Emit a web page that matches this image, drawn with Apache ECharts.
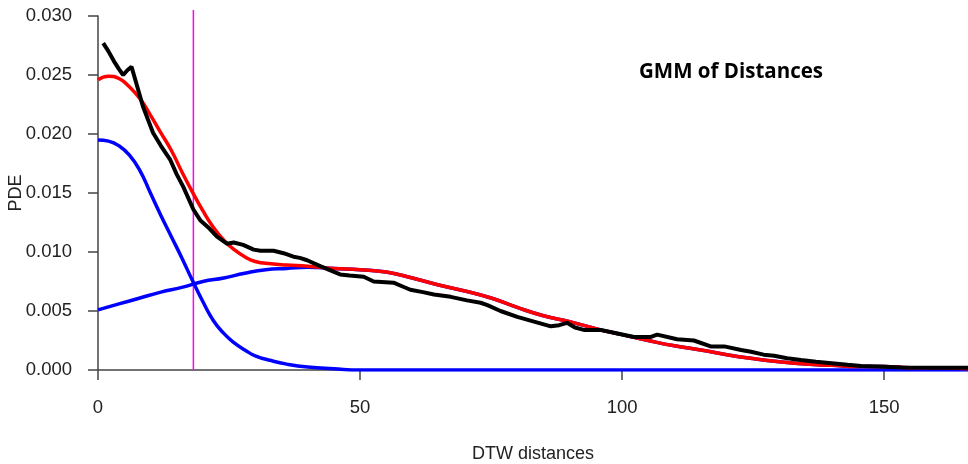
<!DOCTYPE html>
<html>
<head>
<meta charset="utf-8">
<script src="https://cdn.jsdelivr.net/npm/echarts@6/dist/echarts.min.js"></script>
<style>
html,body{margin:0;padding:0;background:#fff;}
#chart{width:968px;height:464px;}
</style>
</head>
<body>
<div id="chart"></div>
<script>
// ---- data ----
const xTicks = [0, 50, 100, 150];
const yTicks = [0, 0.005, 0.010, 0.015, 0.020, 0.025, 0.030];
const cutoffX = 18.2;

// Component 1 (blue, narrow)
const comp1 = [
  [0,0.0195],[2,0.0194],[4,0.0190],[6,0.0182],[8,0.0169],[10,0.0150],[12,0.0131],
  [14,0.0113],[16,0.0095],[18,0.0076],[20,0.0058],[22,0.0042],[24,0.0031],[26,0.0023],
  [28,0.0017],[30,0.0012],[33,0.0008],[36,0.0005],[40,0.00025],[45,0.0001],[50,0],
  [80,0],[120,0],[166,0]
];
// Component 2 (blue, broad)
const comp2 = [
  [0,0.0051],[4,0.0056],[8,0.0061],[12,0.0066],[16,0.0070],[20,0.0075],[24,0.0078],
  [28,0.0082],[32,0.0085],[36,0.0086],[40,0.0087],[45,0.0086],[50,0.0085],[55,0.0083],
  [60,0.0078],[65,0.0072],[70,0.0067],[75,0.0061],[80,0.0053],[85,0.0046],[90,0.0041],
  [95,0.0035],[100,0.0030],[105,0.0025],[110,0.00205],[115,0.0017],[120,0.0013],
  [125,0.00097],[130,0.0007],[135,0.0005],[140,0.0004],[145,0.0003],[150,0.0003],
  [155,0.0002],[160,0.0002],[166,0.0001]
];
// Mixture (red)
const mixture = [
  [0,0.0246],[2,0.0249],[4,0.0247],[6,0.0240],[8,0.0230],[10,0.0216],[12,0.0201],
  [14,0.0186],[16,0.0168],[18,0.0151],[20,0.0135],[22,0.0121],[24,0.0110],[26,0.0102],
  [28,0.0096],[30,0.0092],[33,0.0090],[36,0.0089],[40,0.0088],[45,0.0086],[50,0.0085],
  [55,0.0083],[60,0.0078],[65,0.0072],[70,0.0067],[75,0.0061],[80,0.0053],[85,0.0046],
  [90,0.0041],[95,0.0035],[100,0.0030],[105,0.0025],[110,0.00205],[115,0.0017],
  [120,0.0013],[125,0.00097],[130,0.0007],[135,0.0005],[140,0.0004],[145,0.0003],
  [150,0.0003],[155,0.0002],[160,0.0002],[166,0.0001]
];
// Empirical density (black)
const empirical = [
  [1,0.0277],[2,0.0270],[3,0.0262],[4,0.0255],[4.8,0.0250],[5.6,0.0254],[6.4,0.0257],
  [7.5,0.0240],[8.6,0.0223],[10.5,0.0201],[12,0.0190],[13.8,0.0178],[15,0.0166],
  [16.3,0.0155],[18.2,0.0136],[19.5,0.0127],[21,0.0121],[22.7,0.0113],[24.6,0.0107],
  [25.9,0.0108],[27.7,0.0106],[29.7,0.0102],[31,0.0101],[33.5,0.0101],[35.4,0.0099],
  [37.3,0.0096],[38.5,0.0095],[39.9,0.0093],[42.4,0.0088],[44,0.0085],[46.2,0.0081],
  [48,0.0080],[50.7,0.0079],[52.6,0.0075],[56.4,0.0074],[58,0.0071],[59.6,0.0068],
  [62,0.0066],[64.1,0.0064],[67.3,0.0062],[70.4,0.0059],[73,0.0057],[74.3,0.0055],
  [76.8,0.0050],[80,0.0045],[83.2,0.0041],[86.4,0.0037],[88,0.0038],[89.5,0.0040],
  [91,0.0036],[92.7,0.0034],[95.9,0.0034],[99.1,0.0031],[102.3,0.0028],[105.5,0.0028],
  [106.7,0.0030],[110.5,0.0026],[113.7,0.0025],[116.9,0.0020],[119.5,0.0020],
  [122.7,0.0017],[124.6,0.00155],[127,0.0013],[129,0.0012],[131.5,0.0010],
  [134.1,0.00085],[137,0.0007],[140.5,0.00056],[143,0.00045],[145.6,0.00034],
  [150,0.00028],[153.2,0.00022],[159.6,0.0002],[166,0.0002]
];
const cutoffLine = [[cutoffX, 0], [cutoffX, 0.0305]];

const labelFont = 'Liberation Sans, Arial, sans-serif';
const chart = echarts.init(document.getElementById('chart'));
chart.setOption({
  animation: false,
  backgroundColor: '#ffffff',
  title: {
    text: 'GMM of Distances',
    left: 639, top: 62, padding: 0,
    textStyle: { fontFamily: 'Open Sans', fontWeight: 'bold', fontSize: 20.5, color: '#000' }
  },
  grid: { left: 98, right: 0, top: 16, bottom: 94, containLabel: false, outerBoundsMode: 'none' },
  xAxis: {
    type: 'value', min: 0, max: 166,
    name: 'DTW distances', nameLocation: 'middle', nameGap: 75, nameMoveOverlap: false,
    nameTextStyle: { fontFamily: labelFont, fontSize: 18, color: '#222' },
    axisLine: { show: true, onZero: false, lineStyle: { color: '#444', width: 1.5 } },
    axisTick: { show: true, inside: false, length: 10, customValues: xTicks, lineStyle: { color: '#444', width: 1.5 } },
    axisLabel: { margin: 28, customValues: xTicks, fontFamily: labelFont, fontSize: 18.5, color: '#222' },
    splitLine: { show: false }
  },
  yAxis: {
    type: 'value', min: 0, max: 0.03, interval: 0.005,
    name: 'PDE', nameLocation: 'middle', nameGap: 73, nameRotate: 90, nameMoveOverlap: false,
    nameTextStyle: { fontFamily: labelFont, fontSize: 18, color: '#222' },
    axisLine: { show: true, lineStyle: { color: '#444', width: 1.5 } },
    axisTick: { show: true, inside: false, length: 10, customValues: yTicks, lineStyle: { color: '#444', width: 1.5 } },
    axisLabel: { margin: 26, customValues: yTicks, fontFamily: labelFont, fontSize: 18.5, color: '#222',
      formatter: v => v.toFixed(3) },
    splitLine: { show: false }
  },
  series: [
    { type: 'line', data: cutoffLine, symbol: 'none', clip: false,
      lineStyle: { color: '#ff00ff', width: 1.5 } },
    { type: 'line', data: comp1, symbol: 'none', smooth: true,
      lineStyle: { color: '#0000ff', width: 3.5 } },
    { type: 'line', data: comp2, symbol: 'none', smooth: true,
      lineStyle: { color: '#0000ff', width: 3.5 } },
    { type: 'line', data: mixture, symbol: 'none', smooth: true,
      lineStyle: { color: '#ff0000', width: 3.5 } },
    { type: 'line', data: empirical, symbol: 'none',
      lineStyle: { color: '#000000', width: 4 } }
  ]
});
</script>
</body>
</html>
